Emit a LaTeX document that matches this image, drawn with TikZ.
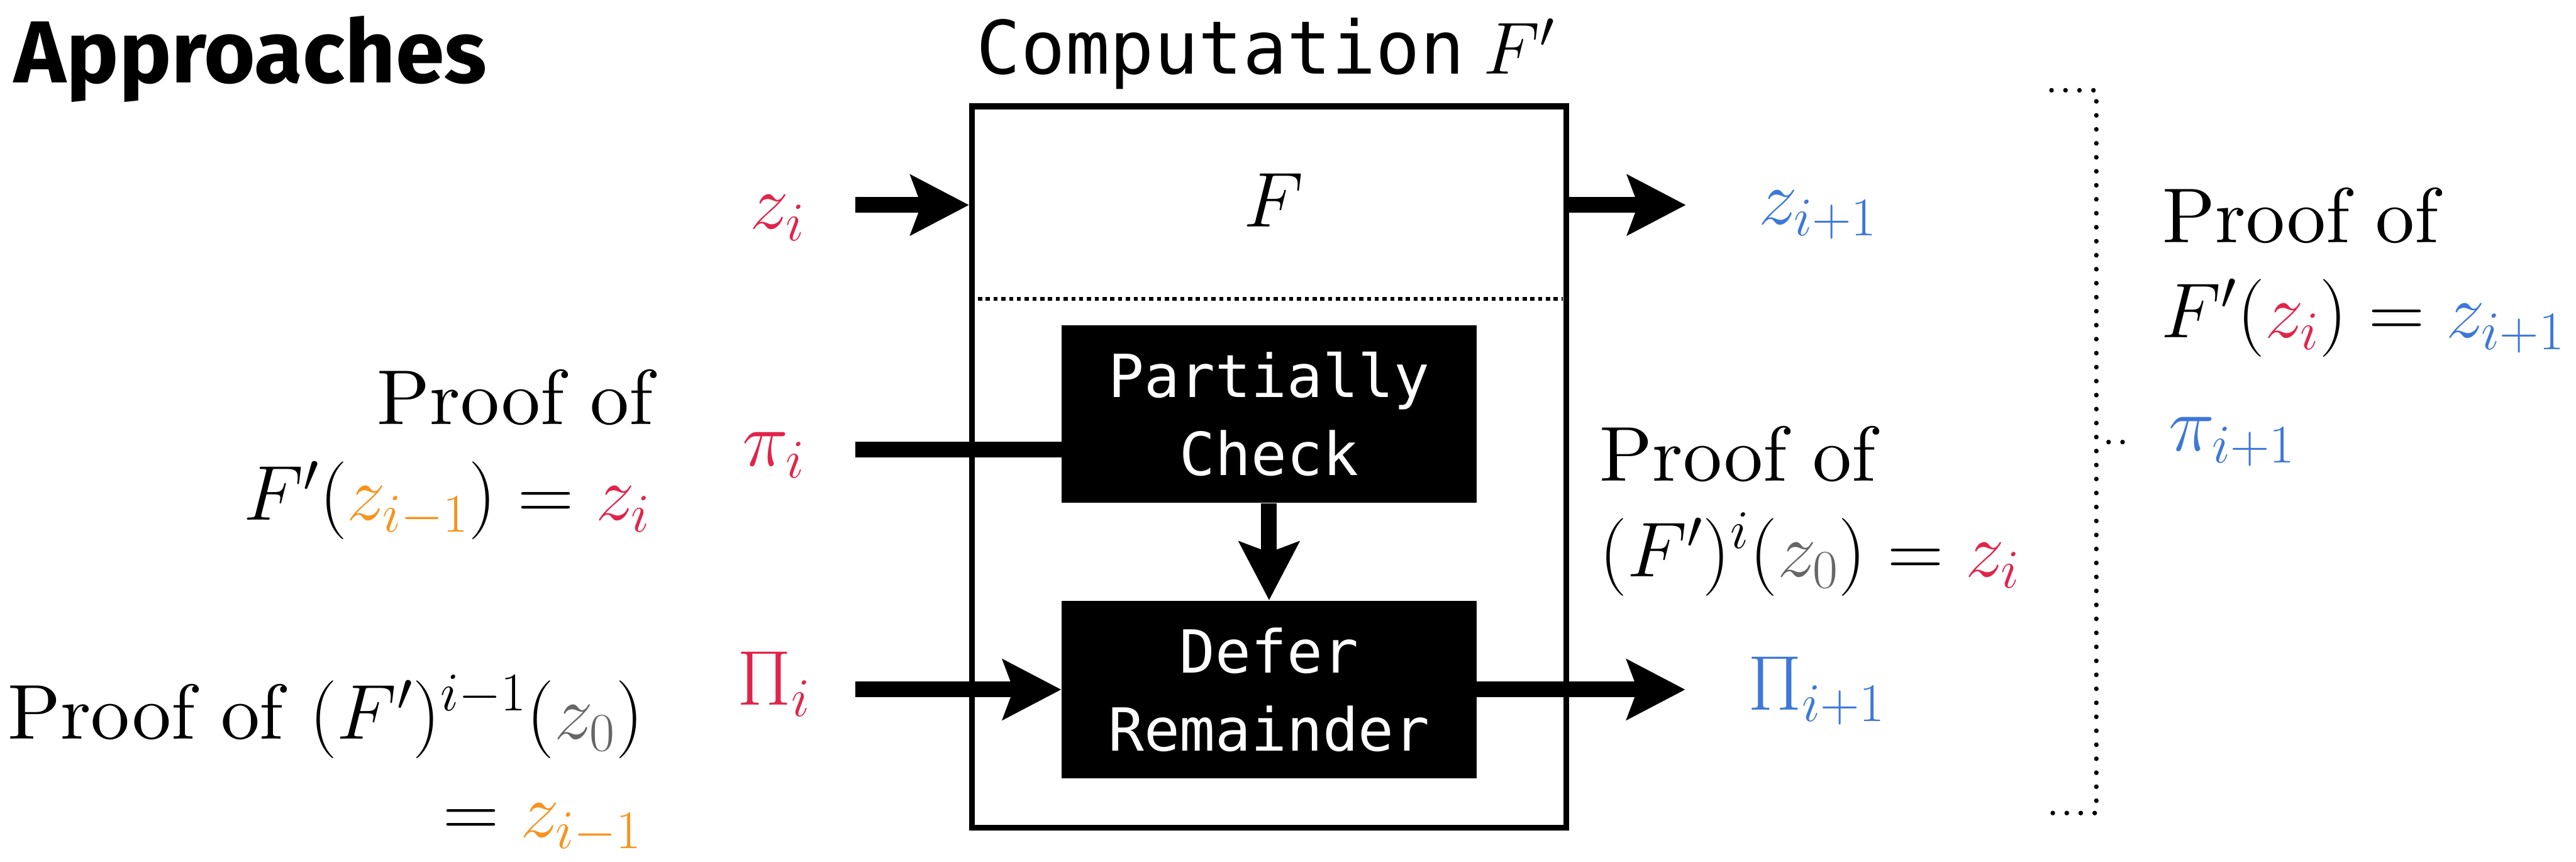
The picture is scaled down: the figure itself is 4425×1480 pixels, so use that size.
\RequirePackage{fix-cm}
\documentclass[tikz,border=0pt]{standalone}
\usepackage{fontspec}
\setmainfont{lmroman10-regular.otf}[ItalicFont=lmroman10-italic.otf,BoldFont=lmroman10-bold.otf]
\setmonofont{DejaVu Sans Mono}
\newfontfamily\headfont{Fira Sans}
\usetikzlibrary{arrows.meta}

\definecolor{zred}{HTML}{E2234A}
\definecolor{zblue}{HTML}{3D78D8}
\definecolor{zorange}{HTML}{F7931E}
\definecolor{zgray}{HTML}{666666}

\begin{document}
\begin{tikzpicture}[x=0.01cm,y=-0.01cm,
  lbl/.style={inner sep=0pt, font=\fontsize{38}{46}\selectfont},
  flow/.style={line width=0.27cm, -{Stealth[length=1cm,width=1.02cm,inset=0.18cm]}},
  wire/.style={line width=0.27cm},
  procbox/.style={fill=black, text=white, inner sep=0pt, minimum width=7.12cm,
    minimum height=3.05cm, align=center, font=\ttfamily\fontsize{29}{38}\selectfont},
  sepline/.style={line width=0.07cm, dash pattern=on 2pt off 1.8pt},
  bracket/.style={line width=0.08cm, line cap=round, dash pattern=on 0pt off 0.24cm}]

\useasboundingbox (0,0) rectangle (4425,1480);

% heading
\node[lbl, anchor=base west, font=\headfont\bfseries\fontsize{43}{50}\selectfont]
  (title) at (24,142) {Approaches};

% the computation F' and its two stages
\node[lbl, anchor=base west, font=\ttfamily\fontsize{36}{44}\selectfont]
  (ctitle) at (1677,127) {Computation\hspace{0.25em}$F'$};
\node[draw, line width=0.1cm, inner sep=0pt, minimum width=10.2cm, minimum height=12.38cm]
  (cbox) at (2180,802) {};
\node[lbl, anchor=base] (f) at (2188,390) {$F$};
\draw[sepline] (1680,513) -- (2685,513);

\node[procbox] (pc) at (2180,711) {Partially\\Check};
\node[procbox] (dr) at (2180,1184) {Defer\\Remainder};

% connectors
\coordinate (zin)   at (1469,352);
\coordinate (zout)  at (2896,352);
\coordinate (piin)  at (1469,772);
\coordinate (Piin)  at (1469,1184);
\coordinate (Piout) at (2895,1184);

\draw[flow] (zin) -- (zin -| cbox.west);
\draw[flow] (zout -| cbox.east) -- (zout);
\draw[wire] (piin) -- (piin -| pc.west);
\draw[flow] (pc.south) -- (dr.north);
\draw[flow] (Piin) -- (Piin -| dr.west);
\draw[flow] (dr.east |- Piout) -- (Piout);

% inputs
\node[lbl, anchor=base west] (zi)  at (1288,393)  {$\textcolor{zred}{z_i}$};
\node[lbl, anchor=base west] (pii) at (1275,800)  {$\textcolor{zred}{\pi_i}$};
\node[lbl, anchor=base west] (Pii) at (1266,1210) {$\textcolor{zred}{\Pi_i}$};

\node[lbl, anchor=base east] (pfa1) at (1122,729) {Proof of};
\node[lbl, anchor=base east] (pfa2) at (1118,893)
  {$F'(\textcolor{zorange}{z_{i-1}}) = \textcolor{zred}{z_i}$};
\node[lbl, anchor=base east] (pfb1) at (1106,1269)
  {Proof of $(F')^{i-1}(\textcolor{zgray}{z_0})$};
\node[lbl, anchor=base east] (pfb2) at (1104,1437)
  {$= \textcolor{zorange}{z_{i-1}}$};

% outputs
\node[lbl, anchor=base west] (zo)  at (3020,385)  {$\textcolor{zblue}{z_{i+1}}$};
\node[lbl, anchor=base west] (Pio) at (3002,1219) {$\textcolor{zblue}{\Pi_{i+1}}$};

\node[lbl, anchor=base west] (pfc1) at (2747,826) {Proof of};
\node[lbl, anchor=base west] (pfc2) at (2747,990)
  {$(F')^{i}(\textcolor{zgray}{z_0}) = \textcolor{zred}{z_i}$};

% next step proof, grouped by a dotted bracket
\draw[bracket] (3524,155) -- (3601,155) -- (3601,1396) -- (3524,1396);
\coordinate (bmid) at (3601,759);
\draw[bracket] ([xshift=0.21cm]bmid) -- ([xshift=0.49cm]bmid);

\node[lbl, anchor=base west] (pfd1) at (3714,417) {Proof of};
\node[lbl, anchor=base west] (pfd2) at (3712,580)
  {$F'(\textcolor{zred}{z_i}) = \textcolor{zblue}{z_{i+1}}$};
\node[lbl, anchor=base west] (pio) at (3725,774) {$\textcolor{zblue}{\pi_{i+1}}$};

\end{tikzpicture}
\end{document}
